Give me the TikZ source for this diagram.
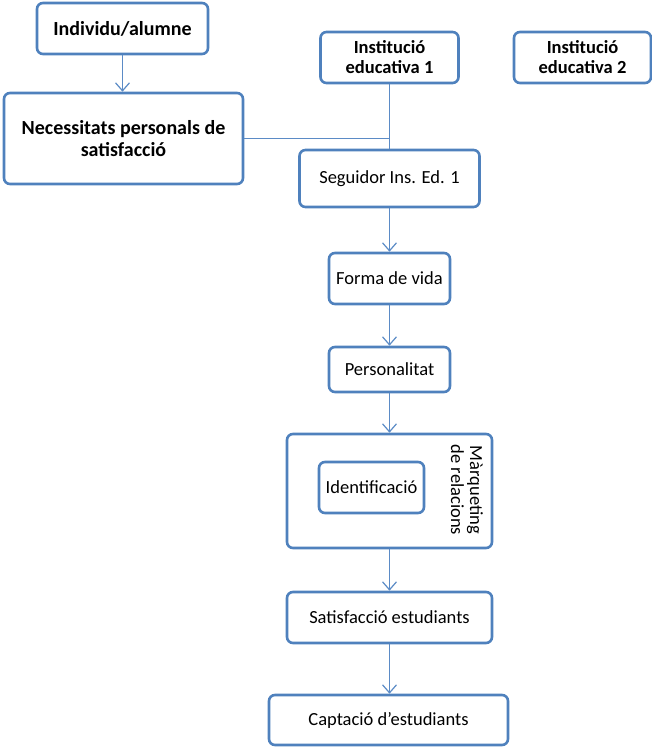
\documentclass[tikz,border=0pt]{standalone}
\usepackage{fontspec}
\setmainfont{Carlito}
\usetikzlibrary{arrows.meta}
\definecolor{boxblue}{HTML}{4F81BD}
\definecolor{lineblue}{HTML}{5B8BC6}
\begin{document}
\begin{tikzpicture}[x=1pt,y=-1pt,
  box/.style={draw=boxblue,line width=2.6pt,rounded corners=6pt,fill=white,align=center,inner sep=0pt,text=black},
  bbox/.style={box,font=\bfseries\fontsize{20}{22}\selectfont},
  rbox/.style={box,font=\fontsize{18.5}{21}\selectfont},
  conn/.style={draw=lineblue,line width=1.4pt},
  arr/.style={conn,-{Straight Barb[length=8pt,width=14pt,line width=1.2pt]}}]
\useasboundingbox (0,0) rectangle (652,749);
\node[bbox,minimum width=171pt,minimum height=51pt] (ind) at (122.5,28.5) {Individu/alumne};
\node[bbox,minimum width=239pt,minimum height=91pt] (nec) at (123.5,138.5) {Necessitats personals de\\satisfacció};
\node[bbox,font=\bfseries\fontsize{18.5}{20}\selectfont,minimum width=138pt,minimum height=51pt] (ie1) at (389.5,57.5) {Institució\\educativa 1};
\node[bbox,font=\bfseries\fontsize{18.5}{20}\selectfont,minimum width=137pt,minimum height=51pt] (ie2) at (582.5,57.5) {Institució\\educativa 2};
\node[rbox,minimum width=180pt,minimum height=57pt] (seg) at (389.5,178.5) {Seguidor Ins. Ed. 1};
\node[rbox,minimum width=121pt,minimum height=51pt] (forma) at (389.5,278.5) {Forma de vida};
\node[rbox,minimum width=121pt,minimum height=45pt] (pers) at (389.5,369.5) {Personalitat};
\node[box,minimum width=205pt,minimum height=114pt] (marq) at (389.5,491) {};
\node[rbox,minimum width=105pt,minimum height=51pt] (ident) at (371.5,487.5) {Identificació};
\node[font=\fontsize{18.5}{19}\selectfont,rotate=-90,align=center,inner sep=0pt] (marqt) at (467,490) {Màrqueting\\de relacions};
\node[rbox,minimum width=205pt,minimum height=51pt] (sat) at (389.5,617.5) {Satisfacció estudiants};
\node[rbox,minimum width=239pt,minimum height=50pt] (capt) at (388.5,720) {Captació d’estudiants};
\draw[arr] (ind.south) -- (ind.south |- nec.north);
\draw[conn] (ie1.south) -- (seg.north);
\draw[conn] (nec.east) -- (nec.east -| ie1.south);
\draw[arr] (seg.south) -- (seg.south |- forma.north);
\draw[arr] (forma.south) -- (forma.south |- pers.north);
\draw[arr] (pers.south) -- (pers.south |- marq.north);
\draw[arr] (marq.south) -- (marq.south |- sat.north);
\draw[arr] (sat.south) -- (sat.south |- capt.north);
\end{tikzpicture}
\end{document}
